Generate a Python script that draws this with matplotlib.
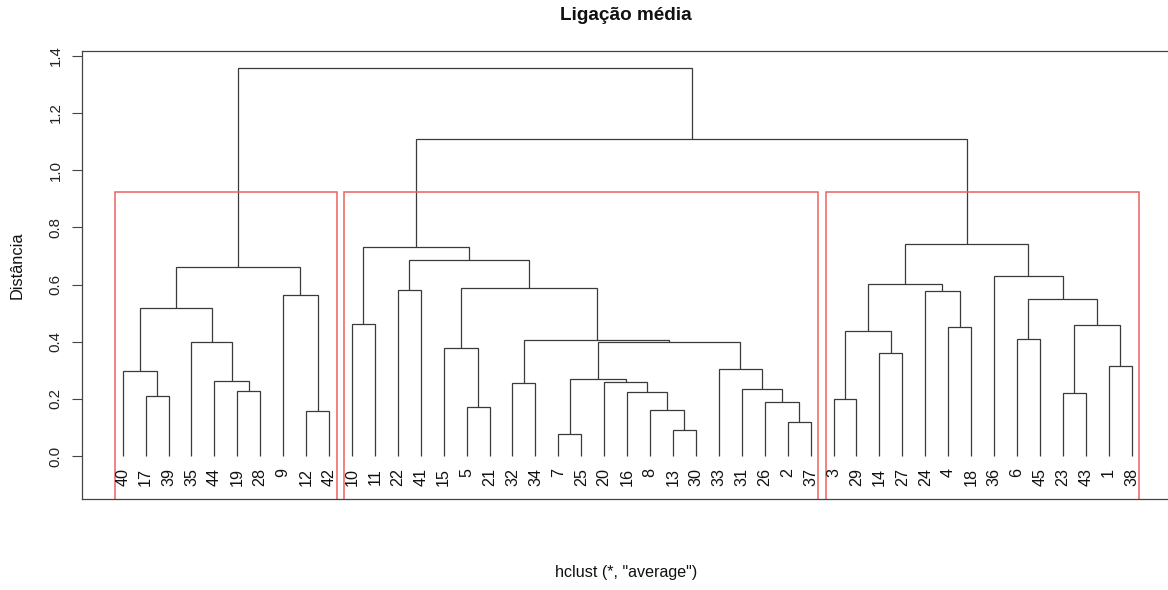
import matplotlib
matplotlib.use("Agg")
import matplotlib.pyplot as plt
from matplotlib import font_manager

plt.rcParams['font.family'] = ['Liberation Sans', 'DejaVu Sans']
names = {f.name for f in font_manager.fontManager.ttflist}
narrow = ['Liberation Sans Narrow', 'Liberation Sans', 'DejaVu Sans'] if 'Liberation Sans Narrow' in names \
    else ['Liberation Sans', 'DejaVu Sans']

# ---- data ----
leaf_order = [40, 17, 39, 35, 44, 19, 28, 9, 12, 42,
              10, 11, 22, 41, 15, 5, 21, 32, 34, 7, 25, 20, 16, 8, 13, 30, 33, 31, 26, 2, 37,
              3, 29, 14, 27, 24, 4, 18, 36, 6, 45, 23, 43, 1, 38]

# R-style merge matrix: negative = observation, positive = earlier merge (1-based)
merge_left = [-7, -13, -2, -12, -8, -5, -26, -3, -17, -23,
              -16, -19, -31, -32, -20, -44, 1, -40, -33, -1,
              -14, -15, -35, 17, 14, -6, 8, -4, 10, -10,
              18, 26, -9, -24, -22, 22, 27, -36, 31, 35,
              30, 37, 41, 39]
merge_right = [-25, -30, -37, -42, 2, -21, 3, -29, -39, -43,
               5, -28, 7, -34, 11, 12, 15, 9, 13, -38,
               -27, 6, 16, 19, 24, -45, 21, -18, 20, -11,
               23, 29, 4, 28, -41, 25, 34, 32, 33, 36,
               40, 38, 42, 43]
merge_height = [0.079, 0.092, 0.121, 0.157, 0.162, 0.170, 0.190, 0.199, 0.209, 0.221,
                0.225, 0.228, 0.235, 0.254, 0.259, 0.264, 0.270, 0.296, 0.305, 0.314,
                0.362, 0.377, 0.399, 0.399, 0.407, 0.410, 0.439, 0.450, 0.459, 0.462,
                0.518, 0.549, 0.563, 0.578, 0.582, 0.589, 0.602, 0.631, 0.661, 0.687,
                0.732, 0.741, 1.110, 1.358]

n_clusters = 3
y_ticks = [0.0, 0.2, 0.4, 0.6, 0.8, 1.0, 1.2, 1.4]
title = "Ligação média"
x_label = 'hclust (*, "average")'
y_label = "Distância"

# ---- figure ----
W, H = 1168, 590
fig = plt.figure(figsize=(W / 100, H / 100), dpi=100)
x0, x1 = 82.3, 1172.0
y0, y1 = 50.7, 498.7
ax = fig.add_axes([x0 / W, 1 - y1 / H, (x1 - x0) / W, (y1 - y0) / H])

n = len(leaf_order)
leaf_pos = {lab: i + 1 for i, lab in enumerate(leaf_order)}

node_x = {}
node_h = {}


def child_xy(c):
    if c < 0:
        return leaf_pos[-c], 0.0
    return node_x[c], node_h[c]


line_col = '#3a3a3a'
for k, (a, b, h) in enumerate(zip(merge_left, merge_right, merge_height), start=1):
    xa, ha = child_xy(a)
    xb, hb = child_xy(b)
    ax.plot([xa, xa, xb, xb], [ha, h, h, hb], color=line_col, lw=0.9,
            solid_joinstyle='miter', solid_capstyle='butt')
    node_x[k] = (xa + xb) / 2
    node_h[k] = h

ymin, ymax = -0.149, 1.418
ax.set_xlim(1 - 0.04 * (n - 1), n + 0.04 * (n - 1))
ax.set_ylim(ymin, ymax)

# leaf labels
for lab, p in leaf_pos.items():
    ax.text(p, -0.042, str(lab), rotation=90, ha='center', va='top',
            fontsize=11.6, color='#111111', family=narrow)

# rect.hclust equivalent
hs = sorted(merge_height)
cut = (hs[-(n_clusters - 1)] + hs[-n_clusters]) / 2


def leaves_of(c):
    if c < 0:
        return [-c]
    return leaves_of(merge_left[c - 1]) + leaves_of(merge_right[c - 1])


def cut_tree(c):
    if c > 0 and merge_height[c - 1] > cut:
        return cut_tree(merge_left[c - 1]) + cut_tree(merge_right[c - 1])
    return [leaves_of(c)]


groups = cut_tree(len(merge_height))
groups.sort(key=lambda g: min(leaf_pos[l] for l in g))
start = 0
for g in groups:
    left = start + 0.66
    right = start + len(g) + 0.33
    ax.plot([left, left, right, right], [ymin, cut, cut, ymin], color='#ee6060',
            lw=1.1, solid_joinstyle='miter', clip_on=False)
    start += len(g)

# axes styling
for s in ['left', 'top', 'bottom', 'right']:
    ax.spines[s].set_color('#444444')
    ax.spines[s].set_linewidth(0.9)
ax.set_xticks([])
ax.set_yticks(y_ticks)
ax.set_yticklabels([f"{v:.1f}" for v in y_ticks])
ax.tick_params(axis='y', length=7.2, width=0.8, color='#444444', pad=7,
               labelcolor='#222222')
for t in ax.get_yticklabels():
    t.set_rotation(90)
    t.set_va('center')
    t.set_fontfamily(narrow)
    t.set_fontsize(10.8)

fig.text(626 / W, 1 - 16 / H, title, ha='center', va='center',
         fontsize=13.6, fontweight='bold', color='#111111')
fig.text(626 / W, 1 - 573 / H, x_label, ha='center', va='center',
         fontsize=11.6, color='#111111')
fig.text(17 / W, 1 - 265 / H, y_label, ha='center', va='center', rotation=90,
         fontsize=11.8, color='#111111', family=narrow)

fig.savefig("out.png", dpi=100)
